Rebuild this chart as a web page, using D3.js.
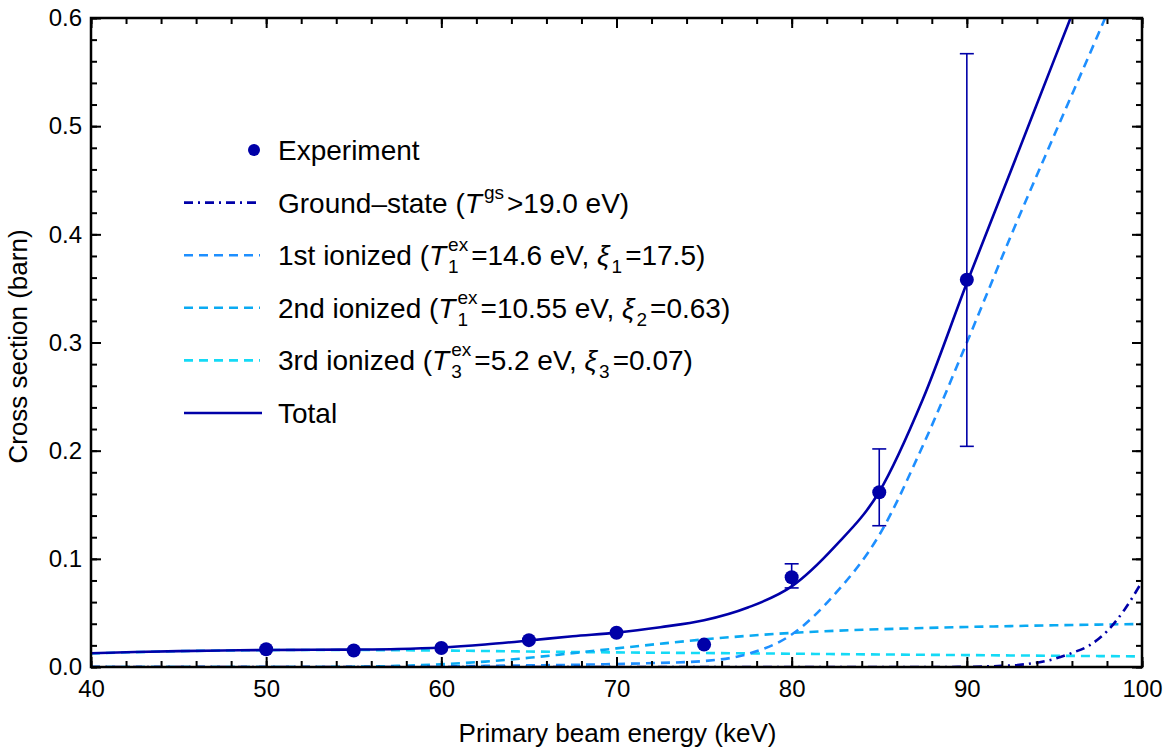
<!DOCTYPE html>
<html>
<head>
<meta charset="utf-8">
<script src="https://cdn.jsdelivr.net/npm/d3@7"></script>
<style>
  html, body { margin: 0; padding: 0; background: #ffffff; }
  svg { display: block; font-family: "Liberation Sans", Arial, sans-serif; }
  text { white-space: pre; }
</style>
</head>
<body>
<svg id="chart" width="1172" height="751"></svg>
<script>
// ---- Data ---------------------------------------------------------------
// Measured cross sections (barn) versus primary beam energy (keV)
const expEnergy = [50, 55, 60, 65, 70, 75, 80, 85, 90];
const expSigma  = [0.0164, 0.0152, 0.0176, 0.0248, 0.0316, 0.0207, 0.0830, 0.1615, 0.358];
const expLower  = [null, null, null, null, null, null, 0.0731, 0.1306, 0.204];
const expUpper  = [null, null, null, null, null, null, 0.0954, 0.2016, 0.567];

// Model curves on a common energy grid (keV)
const energyGrid = [40, 42.5, 45, 47.5, 50, 52.5, 55, 57.5, 60, 62.5, 65, 67.5, 70,
                    72.5, 75, 77.5, 80, 82.5, 85, 87.5, 90, 92.5, 95, 97.5, 100];
const firstIonized  = [0, 0, 0, 0, 0, 0, 0, 0, 0.0005, 0.001, 0.0015, 0.002, 0.0028,
                       0.0038, 0.0055, 0.012, 0.030, 0.068, 0.122, 0.205, 0.300, 0.398, 0.492, 0.585, 0.68];
const secondIonized = [0, 0, 0, 0, 0, 0, 0.0003, 0.001, 0.0025, 0.005, 0.0085, 0.0128, 0.0172,
                       0.0215, 0.0255, 0.0288, 0.0315, 0.0335, 0.0349, 0.0360, 0.0370, 0.0378, 0.0386, 0.0392, 0.0398];
const thirdIonized  = [0.0125, 0.0137, 0.0146, 0.0152, 0.0156, 0.0157, 0.0157, 0.0155, 0.0152, 0.0148, 0.0143, 0.0139, 0.0135,
                       0.0132, 0.0129, 0.0126, 0.0123, 0.0119, 0.0116, 0.0113, 0.0110, 0.0107, 0.0104, 0.0101, 0.0098];
const totalSigma    = [0.0127, 0.0138, 0.0147, 0.0153, 0.0157, 0.0159, 0.0161, 0.0166, 0.0180, 0.0208, 0.0245, 0.0285, 0.0318,
                       0.0368, 0.0432, 0.055, 0.0745, 0.112, 0.162, 0.248, 0.355, 0.458, 0.562, 0.665, 0.77];

// Ground-state channel only switches on near the top of the range
const gsEnergy = [40, 86, 88, 90, 91, 92, 93, 94, 95, 96, 97, 98, 99, 100];
const gsSigma  = [0, 0, 0, 0.0002, 0.0005, 0.001, 0.002, 0.004, 0.0075, 0.013, 0.020, 0.033, 0.053, 0.079];

// Axis ticks
const xMajorTicks = [40, 50, 60, 70, 80, 90, 100];
const xMinorTicks = d3.range(40, 100.01, 2);
const yMajorTicks = [0, 0.1, 0.2, 0.3, 0.4, 0.5, 0.6];
const yMinorTicks = d3.range(0, 0.6001, 0.02);

// ---- Layout -------------------------------------------------------------
const svg = d3.select("#chart");
const plot = { left: 91, right: 1142, top: 18, bottom: 667 };

const x = d3.scaleLinear().domain([40, 100]).range([plot.left, plot.right]);
const y = d3.scaleLinear().domain([0, 0.6]).range([plot.bottom, plot.top]);

const colors = {
  total: "#0000a8",
  gs: "#0000a8",
  first: "#1e8fff",
  second: "#0aaaf2",
  third: "#14daf6"
};

svg.append("defs").append("clipPath").attr("id", "plot-clip")
  .append("rect")
  .attr("x", plot.left).attr("y", plot.top)
  .attr("width", plot.right - plot.left).attr("height", plot.bottom - plot.top);

const curves = svg.append("g").attr("clip-path", "url(#plot-clip)");

const line = d3.line()
  .x(d => x(d[0]))
  .y(d => y(d[1]))
  .curve(d3.curveMonotoneX);

const series = [
  { key: "third",  xs: energyGrid, ys: thirdIonized,  dash: "9,6" },
  { key: "second", xs: energyGrid, ys: secondIonized, dash: "9,6" },
  { key: "first",  xs: energyGrid, ys: firstIonized,  dash: "9,6" },
  { key: "gs",     xs: gsEnergy,   ys: gsSigma,       dash: "9,5,2,5" },
  { key: "total",  xs: energyGrid, ys: totalSigma,    dash: null }
];

series.forEach(s => {
  curves.append("path")
    .datum(s.xs.map((e, i) => [e, s.ys[i]]))
    .attr("fill", "none")
    .attr("stroke", colors[s.key])
    .attr("stroke-width", 2.6)
    .attr("stroke-dasharray", s.dash)
    .attr("d", line);
});

// Experimental points with error bars
const expData = expEnergy.map((e, i) => ({ e, v: expSigma[i], lo: expLower[i], hi: expUpper[i] }));
const bars = svg.append("g").attr("stroke", colors.total).attr("stroke-width", 1.6);
expData.filter(d => d.lo !== null).forEach(d => {
  bars.append("line").attr("x1", x(d.e)).attr("x2", x(d.e)).attr("y1", y(d.lo)).attr("y2", y(d.hi));
  [d.lo, d.hi].forEach(v => {
    bars.append("line").attr("x1", x(d.e) - 7).attr("x2", x(d.e) + 7).attr("y1", y(v)).attr("y2", y(v));
  });
});
svg.append("g").selectAll("circle").data(expData).join("circle")
  .attr("cx", d => x(d.e)).attr("cy", d => y(d.v)).attr("r", 7)
  .attr("fill", colors.total);

// ---- Axes (ticks on all four sides, pointing inward) --------------------
function styleAxis(g) {
  g.select(".domain").remove();
  g.selectAll(".tick line").attr("stroke", "#000").attr("stroke-width", 2);
  g.selectAll(".tick text").attr("fill", "#000").attr("font-size", 24)
    .attr("font-family", "'Liberation Sans', Arial, sans-serif");
}
const fmtY = d3.format(".1f");

svg.append("g").attr("transform", `translate(0,${plot.bottom})`)
  .call(d3.axisBottom(x).tickValues(xMinorTicks).tickSize(-6).tickFormat(""))
  .call(styleAxis);
svg.append("g").attr("transform", `translate(0,${plot.bottom})`)
  .call(d3.axisBottom(x).tickValues(xMajorTicks).tickSize(-10).tickPadding(13).tickFormat(d3.format("d")))
  .call(styleAxis);
svg.append("g").attr("transform", `translate(0,${plot.top})`)
  .call(d3.axisTop(x).tickValues(xMinorTicks).tickSize(-6).tickFormat(""))
  .call(styleAxis);
svg.append("g").attr("transform", `translate(0,${plot.top})`)
  .call(d3.axisTop(x).tickValues(xMajorTicks).tickSize(-10).tickFormat(""))
  .call(styleAxis);

svg.append("g").attr("transform", `translate(${plot.left},0)`)
  .call(d3.axisLeft(y).tickValues(yMinorTicks).tickSize(-6).tickFormat(""))
  .call(styleAxis);
svg.append("g").attr("transform", `translate(${plot.left},0)`)
  .call(d3.axisLeft(y).tickValues(yMajorTicks).tickSize(-10).tickPadding(9).tickFormat(fmtY))
  .call(styleAxis);
svg.append("g").attr("transform", `translate(${plot.right},0)`)
  .call(d3.axisRight(y).tickValues(yMinorTicks).tickSize(-6).tickFormat(""))
  .call(styleAxis);
svg.append("g").attr("transform", `translate(${plot.right},0)`)
  .call(d3.axisRight(y).tickValues(yMajorTicks).tickSize(-10).tickFormat(""))
  .call(styleAxis);

// Frame
svg.append("rect")
  .attr("x", plot.left).attr("y", plot.top)
  .attr("width", plot.right - plot.left).attr("height", plot.bottom - plot.top)
  .attr("fill", "none").attr("stroke", "#000").attr("stroke-width", 2.5);

// Axis titles
svg.append("text")
  .attr("x", (plot.left + plot.right) / 2 + 1).attr("y", 742)
  .attr("text-anchor", "middle").attr("font-size", 26).attr("fill", "#000")
  .text("Primary beam energy (keV)");
svg.append("text")
  .attr("transform", `translate(27,${(plot.top + plot.bottom) / 2 + 4}) rotate(-90)`)
  .attr("text-anchor", "middle").attr("font-size", 26).attr("fill", "#000")
  .text("Cross section (barn)");

// ---- Legend -------------------------------------------------------------
// Each label is a list of runs; a run may carry a superscript/subscript stack.
const legendLabels = [
  [{ t: "Experiment" }],
  [{ t: "Ground\u2013state (" }, { t: "T", it: true }, { sup: "gs" }, { t: ">19.0 eV)" }],
  [{ t: "1st ionized (" }, { t: "T", it: true }, { sup: "ex", sub: "1" }, { t: "=14.6 eV, " },
   { t: "\u03BE", it: true }, { sub: "1" }, { t: "=17.5)" }],
  [{ t: "2nd ionized (" }, { t: "T", it: true }, { sup: "ex", sub: "1" }, { t: "=10.55 eV, " },
   { t: "\u03BE", it: true }, { sub: "2" }, { t: "=0.63)" }],
  [{ t: "3rd ionized (" }, { t: "T", it: true }, { sup: "ex", sub: "3" }, { t: "=5.2 eV, " },
   { t: "\u03BE", it: true }, { sub: "3" }, { t: "=0.07)" }],
  [{ t: "Total" }]
];
const legendKeys = ["exp", "gs", "first", "second", "third", "total"];
const legendFont = 28, smallFont = 19;
const legendRowY = d3.scaleLinear().domain([0, 5]).range([150, 413]);

const legend = svg.append("g");
legendKeys.forEach((key, i) => {
  const cy = legendRowY(i);
  const row = legend.append("g");
  if (key === "exp") {
    row.append("circle").attr("cx", 254).attr("cy", cy).attr("r", 6).attr("fill", colors.total);
  } else {
    const s = series.find(d => d.key === key);
    row.append("line")
      .attr("x1", 184).attr("x2", key === "total" ? 262 : 260)
      .attr("y1", cy).attr("y2", cy)
      .attr("stroke", colors[key]).attr("stroke-width", 2.6)
      .attr("stroke-dasharray", s.dash);
  }
  const base = cy + 10;
  let cx = 278;
  legendLabels[i].forEach(run => {
    if (run.t !== undefined) {
      const t = row.append("text").attr("x", cx).attr("y", base)
        .attr("font-size", legendFont).attr("fill", "#000")
        .attr("font-style", run.it ? "italic" : "normal")
        .text(run.t);
      cx += t.node().getComputedTextLength() + (run.it ? 2 : 0);
    } else {
      let w = 0;
      if (run.sup) {
        const t = row.append("text").attr("x", cx).attr("y", base - 14)
          .attr("font-size", smallFont).attr("fill", "#000").text(run.sup);
        w = Math.max(w, t.node().getComputedTextLength());
      }
      if (run.sub) {
        const t = row.append("text").attr("x", cx).attr("y", base + 8)
          .attr("font-size", smallFont).attr("fill", "#000").text(run.sub);
        w = Math.max(w, t.node().getComputedTextLength());
      }
      cx += w + 3;
    }
  });
});
</script>
</body>
</html>
